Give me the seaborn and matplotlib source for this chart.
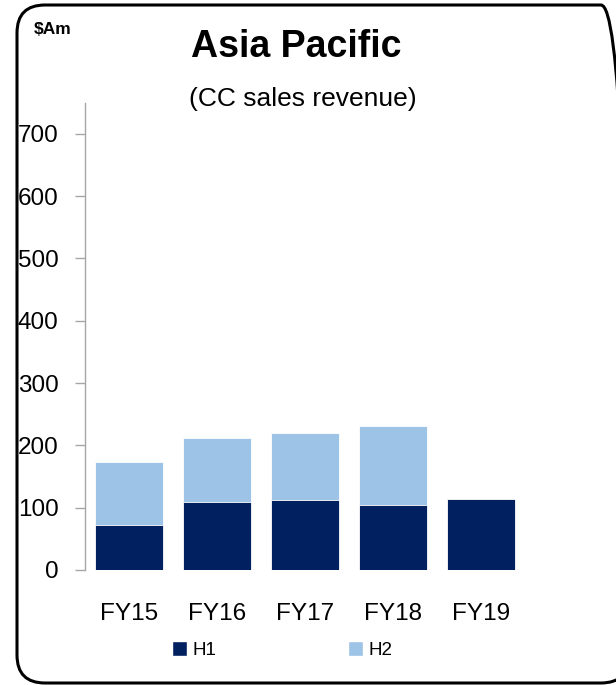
from matplotlib import pyplot as plt
from matplotlib.patches import FancyBboxPatch, Patch
import seaborn as sns
import pandas as pd

years = ["FY15", "FY16", "FY17", "FY18", "FY19"]
h1 = [72, 109, 112, 104, 114]
h2 = [101, 103, 108, 127, 0]
y_ticks = [0, 100, 200, 300, 400, 500, 600, 700]

navy = "#002060"
light = "#9DC3E6"

sns.set_style("white")
plt.rcParams['font.family'] = ['Liberation Sans', 'DejaVu Sans']
plt.rcParams['text.color'] = 'black'
plt.rcParams['xtick.color'] = 'black'
plt.rcParams['ytick.color'] = 'black'

df = pd.DataFrame({"year": years, "H1": h1, "H2": h2})
df["total"] = df["H1"] + df["H2"]

fig = plt.figure(figsize=(6.16, 6.85), dpi=100)
ax = fig.add_axes([0.138, 0.168, 0.714, 0.682])

# stacked bars: total first (light), H1 on top of it (dark)
sns.barplot(data=df, x="year", y="total", color=light, width=0.77,
            saturation=1, edgecolor="white", linewidth=0.6, ax=ax)
sns.barplot(data=df, x="year", y="H1", color=navy, width=0.77,
            saturation=1, edgecolor="white", linewidth=0.6, ax=ax)

ax.set_xlim(-0.5, 4.5)
ax.set_ylim(0, 750)
ax.set_yticks(y_ticks)
ax.set_xlabel("")
ax.set_ylabel("")
for s in ["top", "right", "bottom"]:
    ax.spines[s].set_visible(False)
ax.spines["left"].set_color("#A6A6A6")
ax.spines["left"].set_linewidth(1)
ax.tick_params(axis="y", left=True, length=7, width=1, color="#A6A6A6",
               labelcolor="black", labelsize=17.5, pad=12)
ax.tick_params(axis="x", bottom=False, labelcolor="black", labelsize=17.5, pad=20)

# legend
handles = [Patch(facecolor=navy, label="H1"), Patch(facecolor=light, label="H2")]
fig.legend(handles=handles, loc="center", bbox_to_anchor=(0.458, 0.051),
           ncol=2, frameon=False, fontsize=13.5, handlelength=0.8,
           handleheight=0.8, handletextpad=0.3, columnspacing=7)

# titles
fig.text(0.481, 0.932, "Asia Pacific", ha="center", va="center",
         fontsize=27, fontweight="bold")
fig.text(0.492, 0.856, "(CC sales revenue)", ha="center", va="center",
         fontsize=19)
fig.text(0.055, 0.957, "$Am", ha="left", va="center", fontsize=12.5,
         fontweight="bold")

# rounded border (right edge runs off the picture)
box = FancyBboxPatch((0.17, 0.02), 6.12, 6.78,
                     boxstyle="round,pad=0,rounding_size=0.28",
                     transform=fig.dpi_scale_trans, fill=False,
                     edgecolor="black", linewidth=2.2, clip_on=False)
fig.patches.append(box)

plt.savefig("out.png", dpi=100)
